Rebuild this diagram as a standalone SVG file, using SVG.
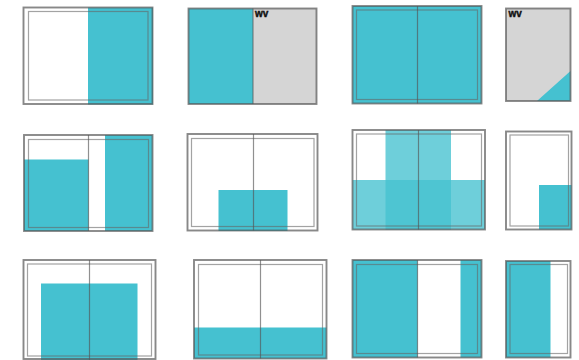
<svg xmlns="http://www.w3.org/2000/svg" width="579" height="360" viewBox="0 0 579 360">
<style>
.t{fill:#45C1D0}
.ta{fill:#45C1D0;fill-opacity:0.78}
.g{fill:#D5D5D5}
.o{fill:none;stroke:#555;stroke-opacity:0.7;stroke-width:1.9}
.i{fill:none;stroke:#666;stroke-opacity:0.6;stroke-width:1.2}
.c{stroke:#555;stroke-opacity:0.65;stroke-width:1.2}
.wv{font-family:"Liberation Sans",Arial,sans-serif;font-weight:bold;font-size:10px;fill:#111;stroke:#111;stroke-width:0.4}
</style>
<rect width="579" height="360" fill="#fff"/>
<g id="tile1">
<rect class="t" x="88" y="7.5" width="65" height="97"/>
<rect class="i" x="28.5" y="11.5" width="119.5" height="88.5"/>
<rect class="o" x="23.5" y="7.5" width="129" height="96.5"/>
</g>
<g id="tile2">
<rect class="t" x="188.5" y="8.5" width="64.5" height="95.5"/>
<rect class="g" x="253" y="8.5" width="63.5" height="95.5"/>
<line class="c" x1="253" y1="8.5" x2="253" y2="104"/>
<rect class="o" x="188.5" y="8.5" width="128" height="95.5"/>
<text class="wv" x="255" y="16.5">wv</text>
</g>
<g id="tile3">
<rect class="t" x="352.5" y="6" width="129" height="97.5"/>
<rect class="i" x="356.5" y="10" width="121" height="89.5"/>
<line class="c" x1="417.5" y1="6" x2="417.5" y2="103.5"/>
<rect class="o" x="352.5" y="6" width="129" height="97.5"/>
</g>
<g id="tile4">
<rect class="g" x="506" y="8.5" width="64.5" height="92.5"/>
<polygon class="t" points="537,101 570.5,101 570.5,71"/>
<rect class="o" x="506" y="8.5" width="64.5" height="92.5"/>
<text class="wv" x="508.5" y="17">wv</text>
</g>
<g id="tile5">
<rect class="t" x="24" y="159.5" width="64.5" height="71.5"/>
<rect class="t" x="105" y="135" width="47.5" height="96"/>
<rect class="i" x="28.5" y="139.5" width="120" height="88"/>
<line class="c" x1="88.5" y1="135" x2="88.5" y2="231"/>
<rect class="o" x="24" y="135" width="128.5" height="96"/>
</g>
<g id="tile6">
<rect class="t" x="218.5" y="190" width="69" height="41"/>
<rect class="i" x="191.5" y="138.5" width="122.5" height="88"/>
<line class="c" x1="253.5" y1="134" x2="253.5" y2="230.5"/>
<rect class="o" x="187.5" y="134" width="130" height="96.5"/>
</g>
<g id="tile7">
<rect class="ta" x="385.5" y="130" width="65.5" height="99.5"/>
<rect class="ta" x="352.5" y="180" width="132.5" height="49.5"/>
<rect class="i" x="356.5" y="134" width="125" height="92"/>
<line class="c" x1="418.5" y1="130" x2="418.5" y2="229.5"/>
<rect class="o" x="352.5" y="130" width="132.5" height="99.5"/>
</g>
<g id="tile8">
<rect class="t" x="539" y="185" width="32.5" height="44.5"/>
<rect class="i" x="510" y="135" width="58.5" height="91"/>
<rect class="o" x="506" y="131.5" width="65.5" height="98"/>
</g>
<g id="tile9">
<rect class="t" x="41" y="283.5" width="96.5" height="76.5"/>
<rect class="i" x="27.5" y="264" width="124" height="92"/>
<line class="c" x1="89.5" y1="260" x2="89.5" y2="360"/>
<rect class="o" x="23.5" y="260" width="132" height="99"/>
</g>
<g id="tile10">
<rect class="t" x="194" y="327.5" width="132.5" height="31"/>
<rect class="i" x="198.5" y="264.5" width="124" height="90.5"/>
<line class="c" x1="260.5" y1="260" x2="260.5" y2="358.5"/>
<rect class="o" x="194" y="260" width="132.5" height="98.5"/>
</g>
<g id="tile11">
<rect class="t" x="352.5" y="260" width="65" height="97.5"/>
<rect class="t" x="460.5" y="260" width="21" height="97.5"/>
<rect class="i" x="356.5" y="264.5" width="121" height="89"/>
<line class="c" x1="417.5" y1="260" x2="417.5" y2="357.5"/>
<rect class="o" x="352.5" y="260" width="129" height="97.5"/>
</g>
<g id="tile12">
<rect class="t" x="506" y="261" width="44.5" height="96.5"/>
<rect class="i" x="510" y="264.5" width="57.5" height="89"/>
<rect class="o" x="506" y="261" width="64.5" height="96.5"/>
</g>
<g id="connectors"></g>
</svg>
